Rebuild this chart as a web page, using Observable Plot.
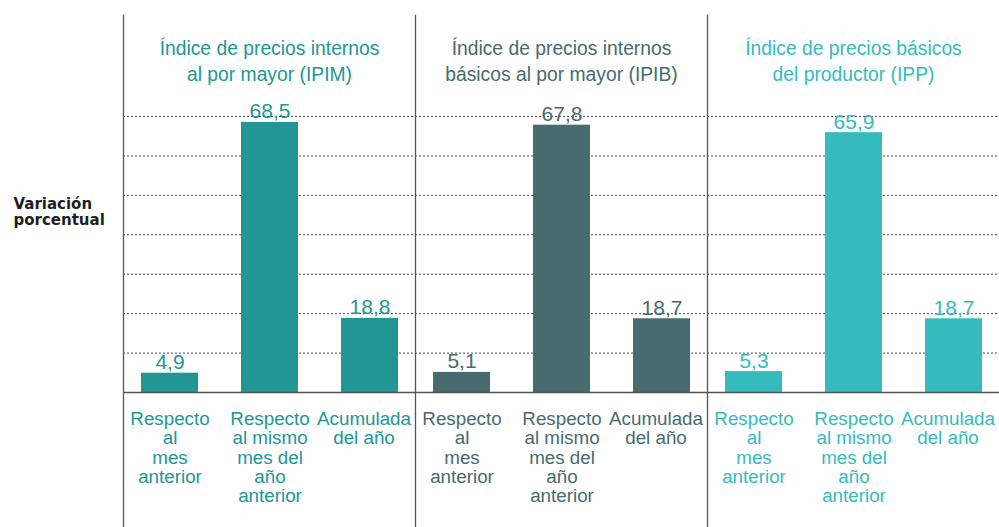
<!DOCTYPE html>
<html>
<head>
<meta charset="utf-8">
<script src="https://cdn.jsdelivr.net/npm/d3@7"></script>
<script src="https://cdn.jsdelivr.net/npm/@observablehq/plot@0.6"></script>
<style>
  html, body { margin: 0; padding: 0; background: #fff; }
  #chart svg { display: block; }
</style>
</head>
<body>
<div id="chart"></div>
<script>
// ---- data ----
const panelKeys = ["IPIM", "IPIB", "IPP"];
const panelTitles = [
  "Índice de precios internos\nal por mayor (IPIM)",
  "Índice de precios internos\nbásicos al por mayor (IPIB)",
  "Índice de precios básicos\ndel productor (IPP)"
];
const panelColors = ["#219695", "#476b6e", "#35bbbe"];
const categoryKeys = ["mes", "interanual", "acumulada"];
const categoryLabels = [
  "Respecto\nal\nmes\nanterior",
  "Respecto\nal mismo\nmes del\naño\nanterior",
  "Acumulada\ndel año"
];
const valuesIPIM = [4.9, 68.5, 18.8];
const valuesIPIB = [5.1, 67.8, 18.7];
const valuesIPP = [5.3, 65.9, 18.7];
const gridValues = [10, 20, 30, 40, 50, 60, 70];
const yAxisLabel = "Variación\nporcentual";

// ---- build tables ----
const seriesValues = [valuesIPIM, valuesIPIB, valuesIPP];
const rows = [];
panelKeys.forEach((p, i) => {
  categoryKeys.forEach((c, j) => {
    rows.push({panel: p, cat: c, value: seriesValues[i][j], label: categoryLabels[j], color: panelColors[i]});
  });
});
const titles = panelKeys.map((p, i) => ({panel: p, title: panelTitles[i], color: panelColors[i]}));
const fmt = v => v.toFixed(1).replace(".", ",");
const lastCat = categoryKeys[categoryKeys.length - 1];

const labelOpts = {fx: "panel", x: "cat", text: "label", fill: "color",
  frameAnchor: "bottom", lineAnchor: "top", dy: 19, lineHeight: 1.025, fontSize: 18.8};

const chart = Plot.plot({
  width: 999,
  height: 527,
  marginLeft: 122,
  marginRight: 0,
  marginTop: 116,
  marginBottom: 135,
  style: {fontFamily: "'Liberation Sans', Arial, sans-serif", background: "#fff"},
  fx: {domain: panelKeys, padding: 0, axis: null},
  x: {domain: categoryKeys, paddingInner: 0.43, paddingOuter: 0.17, axis: null},
  y: {domain: [0, 70], axis: null},
  color: {type: "identity"},
  marks: [
    Plot.gridY(gridValues, {stroke: "#4a4a4a", strokeOpacity: 1, strokeDasharray: "2,2"}),
    Plot.barY(rows, {fx: "panel", x: "cat", y: "value", fill: "color"}),
    Plot.ruleY([0], {stroke: "#555", strokeWidth: 1.3}),
    Plot.text(rows, {fx: "panel", x: "cat", y: "value", text: d => fmt(d.value), fill: "color",
      lineAnchor: "bottom", dy: -4, fontSize: 21}),
    Plot.text(rows.filter(d => d.cat !== lastCat), labelOpts),
    Plot.text(rows.filter(d => d.cat === lastCat), {...labelOpts, dx: -6}),
    Plot.text(titles, {fx: "panel", text: "title", fill: "color",
      frameAnchor: "top", lineAnchor: "top", dy: -80, lineHeight: 1.35, fontSize: 19.3}),
    Plot.frame({anchor: "left", insetTop: -101, insetBottom: -135, stroke: "#555", strokeWidth: 1.3}),
    Plot.text([{panel: panelKeys[0], t: yAxisLabel}], {fx: "panel", text: "t", frameAnchor: "left",
      textAnchor: "start", dx: -110, dy: -43, fontWeight: "bold", fontSize: 15,
      fontFamily: "'DejaVu Sans', sans-serif", lineHeight: 1.07, fill: "#1e1e1e"})
  ]
});
document.getElementById("chart").appendChild(chart);
</script>
</body>
</html>
